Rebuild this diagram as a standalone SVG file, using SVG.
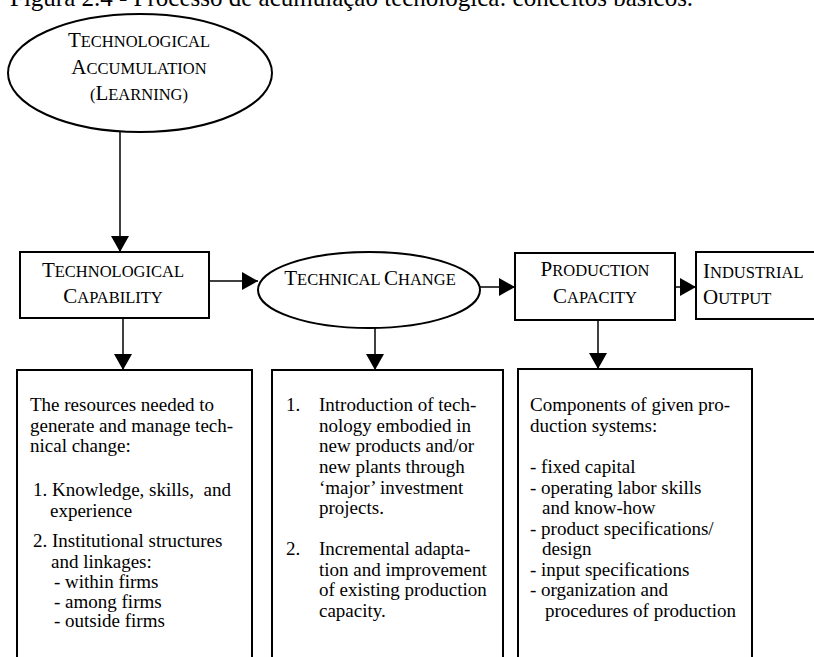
<svg xmlns="http://www.w3.org/2000/svg" width="814" height="657" viewBox="0 0 814 657">
<style>
  .shape { fill: #fff; stroke: #000; stroke-width: 2; }
  .conn { fill: none; stroke: #000; stroke-width: 1.5; }
  .sc { font-family: "Liberation Serif", "Times New Roman", serif; font-size: 16.5px; fill: #000; }
  .sc .b { font-size: 21px; }
  .body { font-family: "Liberation Serif", "Times New Roman", serif; font-size: 19px; fill: #000; }
  .cap { font-family: "Liberation Serif", "Times New Roman", serif; font-size: 25px; fill: #000; }
</style>
<defs>
  <marker id="ah" viewBox="0 0 16 18" refX="16" refY="9" markerWidth="16" markerHeight="18" markerUnits="userSpaceOnUse" orient="auto">
    <path d="M0,0 L16,9 L0,18 z" fill="#000"/>
  </marker>
</defs>
<rect width="814" height="657" fill="#fff"/>
<text class="cap" x="10" y="6">Figura 2.4 - Processo de acumulação tecnológica: conceitos básicos.</text>

<g id="connectors">
  <line class="conn" x1="120" y1="131" x2="120" y2="252" marker-end="url(#ah)"/>
  <line class="conn" x1="209" y1="281" x2="258" y2="281" marker-end="url(#ah)"/>
  <line class="conn" x1="480" y1="287" x2="515" y2="287" marker-end="url(#ah)"/>
  <line class="conn" x1="675" y1="287" x2="696" y2="287" marker-end="url(#ah)"/>
  <line class="conn" x1="123" y1="318" x2="123" y2="370" marker-end="url(#ah)"/>
  <line class="conn" x1="375" y1="327" x2="375" y2="370" marker-end="url(#ah)"/>
  <line class="conn" x1="598" y1="320" x2="598" y2="369" marker-end="url(#ah)"/>
</g>

<g id="accumulation">
  <ellipse class="shape" cx="140" cy="73" rx="132" ry="59"/>
  <text class="sc" text-anchor="middle" x="139" y="47"><tspan class="b">T</tspan>ECHNOLOGICAL</text>
  <text class="sc" text-anchor="middle" x="139" y="74"><tspan class="b">A</tspan>CCUMULATION</text>
  <text class="sc" text-anchor="middle" x="139" y="100">(<tspan class="b">L</tspan>EARNING)</text>
</g>

<g id="capability">
  <rect class="shape" x="20" y="252" width="189" height="66"/>
  <text class="sc" text-anchor="middle" x="113" y="277"><tspan class="b">T</tspan>ECHNOLOGICAL</text>
  <text class="sc" text-anchor="middle" x="113" y="303"><tspan class="b">C</tspan>APABILITY</text>
</g>

<g id="technical-change">
  <ellipse class="shape" cx="369" cy="290" rx="111" ry="38"/>
  <text class="sc" text-anchor="middle" x="370" y="285"><tspan class="b">T</tspan>ECHNICAL <tspan class="b">C</tspan>HANGE</text>
</g>

<g id="production-capacity">
  <rect class="shape" x="515" y="253" width="160" height="67"/>
  <text class="sc" text-anchor="middle" x="595" y="276"><tspan class="b">P</tspan>RODUCTION</text>
  <text class="sc" text-anchor="middle" x="595" y="303"><tspan class="b">C</tspan>APACITY</text>
</g>

<g id="industrial-output">
  <rect class="shape" x="696" y="252" width="130" height="67"/>
  <text class="sc" x="703" y="278"><tspan class="b">I</tspan>NDUSTRIAL</text>
  <text class="sc" x="703" y="304"><tspan class="b">O</tspan>UTPUT</text>
</g>

<g id="capability-details">
  <rect class="shape" x="17" y="370" width="235" height="310"/>
  <text class="body" x="30" y="411">The resources needed to</text>
  <text class="body" x="30" y="432">generate and manage tech-</text>
  <text class="body" x="30" y="452">nical change:</text>
  <text class="body" x="33" y="496" xml:space="preserve">1. Knowledge, skills,  and</text>
  <text class="body" x="50" y="517">experience</text>
  <text class="body" x="33" y="547">2. Institutional structures</text>
  <text class="body" x="51" y="568">and linkages:</text>
  <text class="body" x="54" y="588">- within firms</text>
  <text class="body" x="54" y="608">- among firms</text>
  <text class="body" x="54" y="627">- outside firms</text>
</g>

<g id="change-details">
  <rect class="shape" x="272" y="370" width="231" height="310"/>
  <text class="body" x="286" y="411">1.</text>
  <text class="body" x="319" y="411">Introduction of tech-</text>
  <text class="body" x="319" y="432">nology embodied in</text>
  <text class="body" x="319" y="452">new products and/or</text>
  <text class="body" x="319" y="473">new plants through</text>
  <text class="body" x="319" y="494">‘major’ investment</text>
  <text class="body" x="319" y="514">projects.</text>
  <text class="body" x="286" y="555">2.</text>
  <text class="body" x="319" y="555">Incremental adapta-</text>
  <text class="body" x="319" y="576">tion and improvement</text>
  <text class="body" x="319" y="596">of existing production</text>
  <text class="body" x="319" y="617">capacity.</text>
</g>

<g id="capacity-details">
  <rect class="shape" x="518" y="369" width="234" height="310"/>
  <text class="body" x="530" y="411">Components of given pro-</text>
  <text class="body" x="530" y="432">duction systems:</text>
  <text class="body" x="530" y="473">- fixed capital</text>
  <text class="body" x="530" y="494">- operating labor skills</text>
  <text class="body" x="542" y="514">and know-how</text>
  <text class="body" x="530" y="535">- product specifications/</text>
  <text class="body" x="542" y="555">design</text>
  <text class="body" x="530" y="576">- input specifications</text>
  <text class="body" x="530" y="596">- organization and</text>
  <text class="body" x="545" y="617">procedures of production</text>
</g>
</svg>
